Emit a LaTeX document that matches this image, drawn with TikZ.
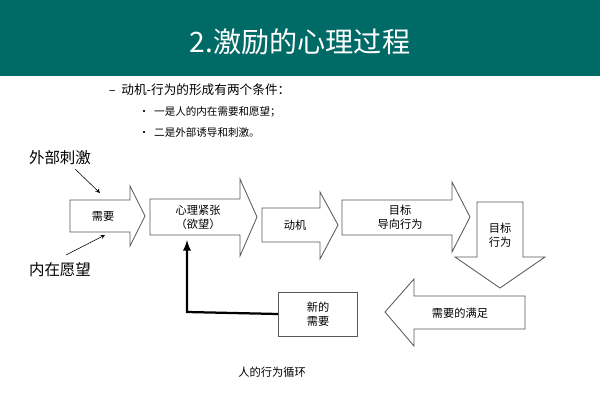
\documentclass[tikz,border=0pt]{standalone}
\usepackage{fontspec}
\setmainfont{Noto Sans CJK SC}
\usetikzlibrary{positioning, arrows}
\definecolor{banner}{HTML}{006A66}
\tikzstyle{bigarrow} = [draw=gray!70!black, fill=white, line width=0.6pt]
\tikzstyle{boxtext} = [font=\fontsize{8}{10}\selectfont, align=center]
\tikzstyle{side} = [font=\fontsize{11}{13}\selectfont]
\tikzstyle{arrow} = [->,>=stealth]
\begin{document}
\begin{tikzpicture}[x=0.025cm, y=-0.025cm]
\useasboundingbox (0,0) rectangle (600,400);
\fill[banner] (0,0) rectangle (600,76);
\node (title) [text=white, font=\fontsize{20}{24}\selectfont] at (300,42) {2.激励的心理过程};
\node (cond) [anchor=west, font=\fontsize{9}{11}\selectfont] at (104,90) {–\ \ 动机-行为的形成有两个条件：};
\node (c1) [anchor=west, font=\fontsize{7.5}{9}\selectfont] at (134,112) {•\ \ 一是人的内在需要和愿望；};
\node (c2) [anchor=west, font=\fontsize{7.5}{9}\selectfont] at (134,132) {•\ \ 二是外部诱导和刺激。};
% arrows of the cycle
\draw [bigarrow] (70,200) -- (130,200) -- (130,186) -- (145,216) -- (130,246) -- (130,232) -- (70,232) -- cycle;
\draw [bigarrow] (150,199) -- (240,199) -- (240,179) -- (257,217) -- (240,256) -- (240,235) -- (150,235) -- cycle;
\draw [bigarrow] (262,208) -- (320,208) -- (320,192) -- (338,225) -- (320,259) -- (320,242) -- (262,242) -- cycle;
\draw [bigarrow] (342,200) -- (452,200) -- (452,182) -- (470,217) -- (452,252) -- (452,235) -- (342,235) -- cycle;
\draw [bigarrow] (477,202) -- (523,202) -- (523,257) -- (545,257) -- (500,288) -- (455,257) -- (477,257) -- cycle;
\draw [bigarrow] (525,296) -- (414,296) -- (414,279) -- (385,312) -- (414,346) -- (414,329) -- (525,329) -- cycle;
\node (need) [boxtext] at (103,216) {需要};
\node (tension) [boxtext] at (198,217) {心理紧张\\（欲望）};
\node (motive) [boxtext] at (295,225) {动机};
\node (goal) [boxtext] at (400,217) {目标\\导向行为};
\node (act) [boxtext] at (500,235) {目标\\行为};
\node (satisfy) [boxtext] at (460,313) {需要的满足};
\node (newneed) [boxtext, draw=gray!70!black, line width=0.6pt, minimum width=1.975cm, minimum height=1.1cm] at (318,314) {新的\\需要};
\node (outer) [side] at (60,158) {外部刺激};
\node (inner) [side] at (60,270) {内在愿望};
\coordinate (tin) at (187,240);
\coordinate (corner) at (187,312);
\draw [line width=1.6pt, -latex] (newneed.west) -- (corner) -- (tin);
\draw [arrow] (75,169) -- (100,193);
\draw [arrow] (66,255) -- (105,235);
\node (caption) [font=\itshape\fontsize{8}{10}\selectfont] at (272,372) {人的行为循环};
\end{tikzpicture}
\end{document}
